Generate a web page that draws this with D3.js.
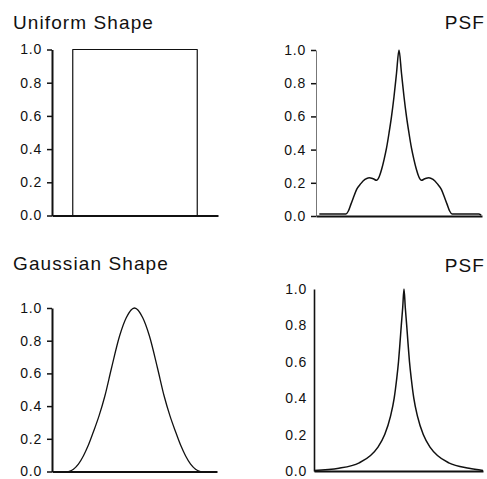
<!DOCTYPE html>
<html>
<head>
<meta charset="utf-8">
<script src="https://cdn.jsdelivr.net/npm/d3@7"></script>
<style>
  body { margin: 0; background: #fff; }
  svg { display: block; }
  .title { font-family: "Liberation Sans", Arial, sans-serif; font-size: 19px; letter-spacing: 1.1px; fill: #111; }
  .tick text { font-family: "Liberation Sans", Arial, sans-serif; font-size: 14px; letter-spacing: 0.8px; fill: #111; }
</style>
</head>
<body>
<script>
/* values, x in panel units (-1 .. 1) */
const yTicks = [0, 0.2, 0.4, 0.6, 0.8, 1.0];

const uniformX = [-1, -0.75, -0.75, 0.75, 0.75, 1];
const uniformY = [0, 0, 1, 1, 0, 0];

const psfUniformX = [-0.96, -0.64, -0.61, -0.58, -0.55, -0.51, -0.46, -0.41, -0.36, -0.31, -0.27, -0.24, -0.21, -0.18, -0.15, -0.12, -0.09, -0.06, -0.03, 0,
                     0.03, 0.06, 0.09, 0.12, 0.15, 0.18, 0.21, 0.24, 0.27, 0.31, 0.36, 0.41, 0.46, 0.51, 0.55, 0.58, 0.61, 0.64, 0.96, 0.99];
const psfUniformY = [0.012, 0.012, 0.03, 0.07, 0.11, 0.16, 0.195, 0.22, 0.231, 0.224, 0.215, 0.235, 0.28, 0.34, 0.41, 0.5, 0.6, 0.72, 0.86, 1.0,
                     0.86, 0.72, 0.6, 0.5, 0.41, 0.34, 0.28, 0.235, 0.215, 0.224, 0.231, 0.22, 0.195, 0.16, 0.11, 0.07, 0.03, 0.012, 0.012, 0.005];

const gaussX = [-0.8, -0.74, -0.68, -0.62, -0.56, -0.5, -0.43, -0.36, -0.28, -0.18, -0.1, 0, 0.1, 0.18, 0.28, 0.36, 0.43, 0.5, 0.56, 0.62, 0.68, 0.74, 0.8];
const gaussY = [0, 0.014, 0.045, 0.095, 0.16, 0.24, 0.34, 0.46, 0.63, 0.83, 0.94, 1.0, 0.94, 0.83, 0.63, 0.46, 0.34, 0.24, 0.16, 0.095, 0.045, 0.014, 0];

const psfGaussX = [-1, -0.705, -0.465, -0.331, -0.245, -0.163, -0.095, -0.051, -0.023, 0, 0.017, 0.033, 0.05, 0.065,
                   0.08, 0.097, 0.113, 0.13, 0.153, 0.181, 0.225, 0.293, 0.375, 0.461, 0.595, 0.835, 1.0];
const psfGaussY = [0.003, 0.015, 0.045, 0.085, 0.13, 0.2, 0.3, 0.4, 0.5, 0.6, 0.7, 0.8, 0.9, 1.0,
                   0.9, 0.8, 0.7, 0.6, 0.5, 0.4, 0.3, 0.2, 0.13, 0.085, 0.045, 0.015, 0.003];

const W = 487, H = 479;
const svg = d3.select('body').append('svg').attr('width', W).attr('height', H);

/* panel boxes in page pixels */
const panels = [
  { title: 'Uniform Shape',  tx: 13,  ty: 29,  anchor: 'start', x0: 52,  x1: 218, y0: 215.5, y1: 49.5, tick: 5, yAxisW: 2,   yAxisC: '#111', xs: uniformX,    ys: uniformY,    curve: d3.curveLinear,    lw: 1.2 },
  { title: 'PSF',            tx: 485, ty: 29,  anchor: 'end',   x0: 316, x1: 482, y0: 216,   y1: 50,   tick: 5, yAxisW: 1,   yAxisC: '#777', xs: psfUniformX, ys: psfUniformY, curve: d3.curveMonotoneX, lw: 1.5 },
  { title: 'Gaussian Shape', tx: 13,  ty: 270, anchor: 'start', x0: 52,  x1: 217, y0: 471.5, y1: 308,  tick: 5, yAxisW: 2,   yAxisC: '#111', xs: gaussX,      ys: gaussY,      curve: d3.curveMonotoneX, lw: 1.3 },
  { title: 'PSF',            tx: 485, ty: 272, anchor: 'end',   x0: 314, x1: 483, y0: 471,   y1: 289,  tick: 0, yAxisW: 1.6, yAxisC: '#111', xs: psfGaussX,   ys: psfGaussY,   curve: d3.curveMonotoneX, lw: 1.5 }
];

panels.forEach(p => {
  const x = d3.scaleLinear().domain([-1, 1]).range([p.x0, p.x1]);
  const y = d3.scaleLinear().domain([0, 1]).range([p.y0, p.y1]);
  const g = svg.append('g');

  g.append('text').attr('class', 'title')
    .attr('x', p.tx).attr('y', p.ty).attr('text-anchor', p.anchor)
    .text(p.title);

  /* y axis */
  const ya = g.append('g').attr('transform', `translate(${p.x0},0)`)
    .call(d3.axisLeft(y).tickValues(yTicks).tickFormat(d3.format('.1f'))
      .tickSize(p.tick).tickSizeOuter(0).tickPadding(p.tick ? 5 : 7));
  ya.select('.domain').attr('stroke', p.yAxisC).attr('stroke-width', p.yAxisW);
  ya.selectAll('.tick line').attr('stroke', '#111').attr('stroke-width', 1.5);

  /* x axis, line only */
  const xa = g.append('g').attr('transform', `translate(0,${p.y0})`)
    .call(d3.axisBottom(x).tickValues([]).tickSizeOuter(0));
  xa.select('.domain').attr('stroke', '#111').attr('stroke-width', 2);

  const pts = p.xs.map((v, i) => [v, p.ys[i]]);
  g.append('path').datum(pts)
    .attr('fill', 'none').attr('stroke', '#111').attr('stroke-width', p.lw)
    .attr('stroke-linejoin', 'round')
    .attr('d', d3.line().x(d => x(d[0])).y(d => y(d[1])).curve(p.curve));
});
</script>
</body>
</html>
